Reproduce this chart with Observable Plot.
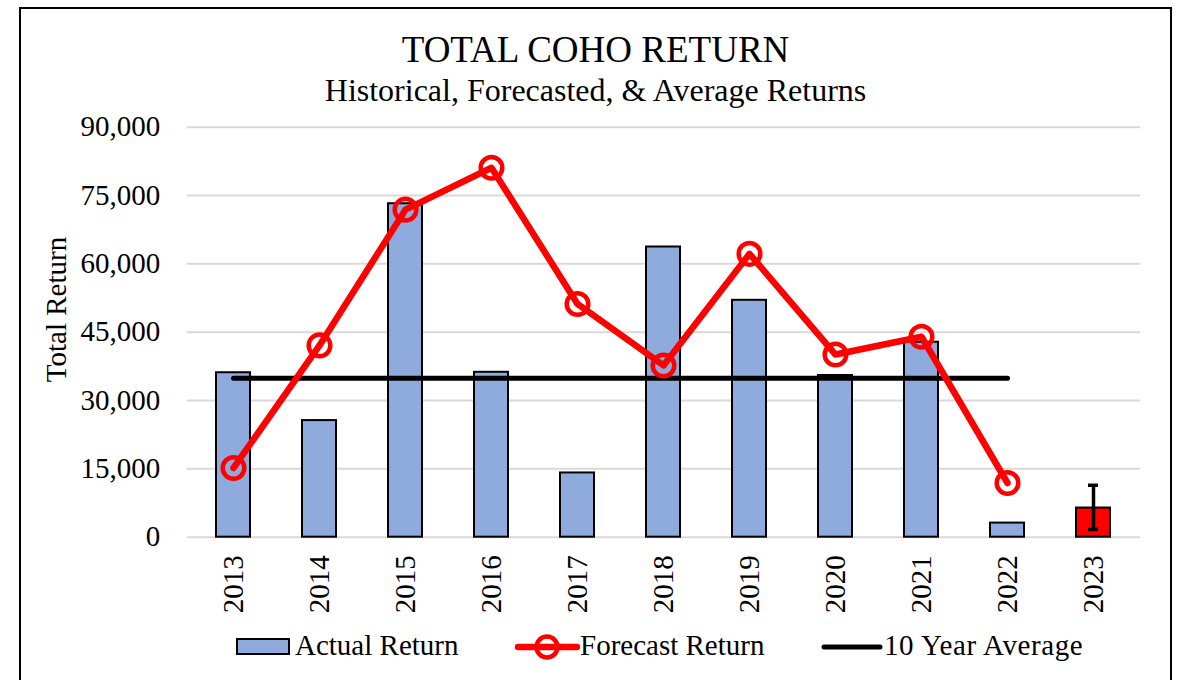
<!DOCTYPE html>
<html><head><meta charset="utf-8">
<script src="https://cdn.jsdelivr.net/npm/d3@7"></script>
<script src="https://cdn.jsdelivr.net/npm/@observablehq/plot@0.6"></script>
<style>
html,body{margin:0;padding:0;background:#fff;}
body{width:1180px;height:680px;overflow:hidden;position:relative;font-family:"Liberation Serif","Times New Roman",serif;color:#000;}
#frame{position:absolute;left:19px;top:7px;width:1149px;height:720px;border:2px solid #000;}
#title{position:absolute;left:19px;width:1153px;top:31px;text-align:center;font-size:37px;line-height:37px;white-space:nowrap;}
#subtitle{position:absolute;left:19px;width:1153px;top:74px;text-align:center;font-size:32px;line-height:32px;white-space:nowrap;}
#chart{position:absolute;left:0;top:0;}
.leg{position:absolute;top:631px;height:29px;display:flex;align-items:center;font-size:29px;line-height:29px;white-space:nowrap;}
.leg svg{display:block;}
</style>
</head><body>
<div id="frame"></div>
<div id="chart"></div>
<div id="title">TOTAL COHO RETURN</div>
<div id="subtitle">Historical, Forecasted, &amp; Average Returns</div>
<div class="leg" style="left:236px;"><svg width="54" height="30"><rect x="1" y="8" width="52" height="15" fill="#8FAADC" stroke="#000" stroke-width="2"/></svg><span style="margin-left:5px;">Actual Return</span></div>
<div class="leg" style="left:514px;"><svg width="66" height="30"><line x1="4" y1="16" x2="63" y2="16" stroke="#FF0000" stroke-width="6.5" stroke-linecap="round"/><circle cx="33" cy="16" r="10.5" fill="none" stroke="#FF0000" stroke-width="4.5"/></svg><span>Forecast Return</span></div>
<div class="leg" style="left:820px;"><svg width="64" height="30"><line x1="4" y1="16" x2="60" y2="16" stroke="#000" stroke-width="5" stroke-linecap="round"/></svg><span style="letter-spacing:0.6px;">10 Year Average</span></div>
<script>
// ---- data ----
const years = ["2013","2014","2015","2016","2017","2018","2019","2020","2021","2022","2023"];
const actualYears = ["2013","2014","2015","2016","2017","2018","2019","2020","2021","2022"];
const actualReturn = [36100, 25600, 73200, 36200, 14100, 63700, 52000, 35500, 42800, 3100];
const forecastReturn = [15200, 42100, 71900, 81100, 51200, 37700, 62200, 40100, 44000, 11900];
const tenYearAverage = 34900;
const forecastYear = "2023";
const forecastValue = 6400;
const forecastLow = 1700;
const forecastHigh = 11400;
const yTicks = [0, 15000, 30000, 45000, 60000, 75000, 90000];

const actualData = actualYears.map((year, i) => ({year, value: actualReturn[i]}));
const forecastData = actualYears.map((year, i) => ({year, value: forecastReturn[i]}));
const avgData = actualYears.map(year => ({year, value: tenYearAverage}));
const fcBar = [{year: forecastYear, value: forecastValue}];
const fcErr = [{year: forecastYear, lo: forecastLow, hi: forecastHigh}];
const fcCaps = [{year: forecastYear, v: forecastHigh}, {year: forecastYear, v: forecastLow}];

const font = '"Liberation Serif","Times New Roman",serif';
const chart = Plot.plot({
  width: 1180,
  height: 625,
  marginTop: 126.7,
  marginBottom: 88.3,
  marginLeft: 186.65,
  marginRight: 39.65,
  style: {fontFamily: font, fontSize: "29px", background: "transparent", color: "#000", overflow: "visible"},
  x: {type: "band", domain: years, paddingInner: 0.6, paddingOuter: 0.3, align: 0.5},
  y: {domain: [0, 90000]},
  marks: [
    Plot.gridY(yTicks, {stroke: "#d9d9d9", strokeOpacity: 1, strokeWidth: 2}),
    Plot.barY(actualData, {x: "year", y: "value", fill: "#8FAADC", stroke: "#000", strokeWidth: 2}),
    Plot.barY(fcBar, {x: "year", y: "value", fill: "#FF0000", stroke: "#000", strokeWidth: 2}),
    Plot.ruleX(fcErr, {x: "year", y1: "lo", y2: "hi", stroke: "#000", strokeWidth: 3.5}),
    Plot.tickY(fcCaps, {x: "year", y: "v", stroke: "#000", strokeWidth: 3.5, insetLeft: 12, insetRight: 12}),
    Plot.line(avgData, {x: "year", y: "value", stroke: "#000", strokeWidth: 5, strokeLinecap: "round"}),
    Plot.line(forecastData, {x: "year", y: "value", stroke: "#FF0000", strokeWidth: 6.5, strokeLinejoin: "round"}),
    Plot.dot(forecastData, {x: "year", y: "value", r: 10.8, fill: "none", stroke: "#FF0000", strokeWidth: 4.5}),
    Plot.axisY(yTicks, {tickSize: 0, tickPadding: 27, tickFormat: d3.format(","), fontSize: 29, label: null}),
    Plot.axisX({tickRotate: -90, tickSize: 0, tickPadding: 18, fontSize: 29, label: null}),
    Plot.text(["Total Return"], {frameAnchor: "left", dx: -130.6, dy: -22.7, rotate: -90, fontSize: 29, fill: "#000", lineAnchor: "middle", textAnchor: "middle"})
  ]
});
document.getElementById("chart").appendChild(chart);
</script>
</body></html>
